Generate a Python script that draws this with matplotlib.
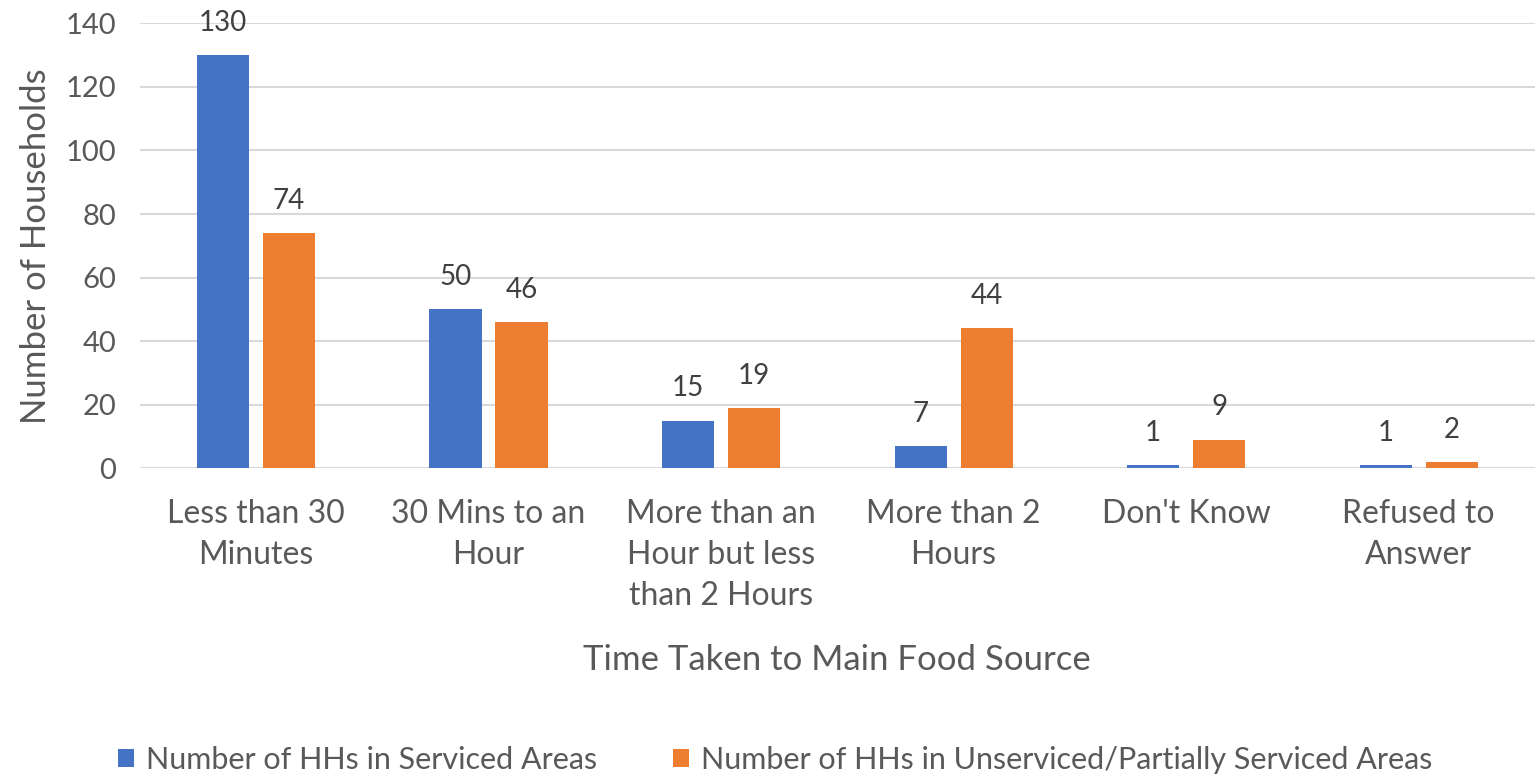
import matplotlib.pyplot as plt
import numpy as np

plt.rcParams['font.family'] = ['Lato', 'DejaVu Sans']

categories = ["Less than 30\nMinutes", "30 Mins to an\nHour", "More than an\nHour but less\nthan 2 Hours",
              "More than 2\nHours", "Don't Know", "Refused to\nAnswer"]
serviced = [130, 50, 15, 7, 1, 1]
unserviced = [74, 46, 19, 44, 9, 2]
series_names = ["Number of HHs in Serviced Areas",
                "Number of HHs in Unserviced/Partially Serviced Areas"]

blue = "#4472C4"
orange = "#ED7D31"
grey = "#595959"

fig = plt.figure(figsize=(15.35, 7.78), dpi=100)
ax = fig.add_axes([0.091, 0.398, 0.909, 0.572])

x = np.arange(len(categories))
w = 0.224
off = 0.142
b1 = ax.bar(x - off, serviced, w, color=blue, label=series_names[0], zorder=3)
b2 = ax.bar(x + off, unserviced, w, color=orange, label=series_names[1], zorder=3)

# value labels above each bar
for bars in (b1, b2):
    for b in bars:
        ax.annotate(f"{int(b.get_height())}", (b.get_x() + b.get_width() / 2, b.get_height()),
                    xytext=(0, 14), textcoords="offset points", ha="center", va="bottom",
                    fontsize=20, color="#404040")

ax.set_xlim(-0.5, len(categories) - 0.5)
ax.set_ylim(0, 140)
ax.set_yticks(range(0, 141, 20))
ax.yaxis.grid(True, color="#D9D9D9", linewidth=1.5, zorder=0)
for s in ax.spines.values():
    s.set_visible(False)
ax.tick_params(axis="both", length=0, labelcolor=grey)
ax.tick_params(axis="y", pad=17, labelsize=21)
ax.tick_params(axis="x", pad=22, labelsize=23)
ax.set_xticks(x)
ax.set_xticklabels(categories, linespacing=1.45)
ax.set_ylabel("Number of Households", fontsize=25, color=grey, labelpad=10)
ax.set_xlabel("Time Taken to Main Food Source", fontsize=25, color=grey, labelpad=24)

fig.legend(loc="lower center", bbox_to_anchor=(0.505, -0.03), ncol=2, frameon=False,
           fontsize=22, labelcolor=grey, handlelength=0.5, handleheight=0.5,
           columnspacing=2.5, handletextpad=0.4)

fig.savefig("out.png", dpi=100)
